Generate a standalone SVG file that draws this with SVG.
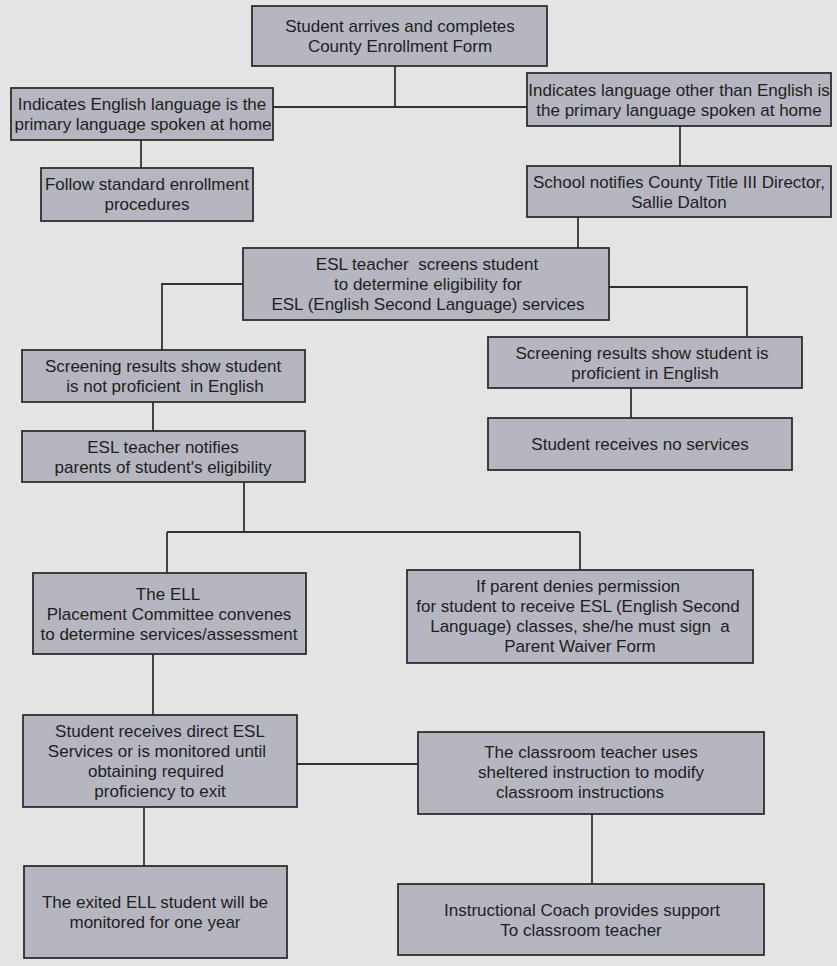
<svg xmlns="http://www.w3.org/2000/svg" width="837" height="966" viewBox="0 0 837 966">
<style>
.bg{fill:#e4e4e4}
.box{fill:#b6b6c0;stroke:#2e2e2e;stroke-width:1.8}
.t{font-family:"Liberation Sans",Arial,sans-serif;font-size:17px;fill:#1e1e1e;text-anchor:middle;white-space:pre}
.c{fill:none;stroke:#333;stroke-width:1.8}
</style>
<rect class="bg" x="0" y="0" width="837" height="966"/>
<g id="connectors">
<path class="c" d="M395,66 V107 M273,107 H527"/>
<path class="c" d="M141,140 V168"/>
<path class="c" d="M680,126 V166"/>
<path class="c" d="M578,217 V248"/>
<path class="c" d="M243,284 H162 V350"/>
<path class="c" d="M609,287 H747 V337"/>
<path class="c" d="M631,388 V418"/>
<path class="c" d="M153,402 V431"/>
<path class="c" d="M244,482 V532 M167,532 H580 M167,532 V573 M580,532 V570"/>
<path class="c" d="M153,654 V715"/>
<path class="c" d="M297,764 H418"/>
<path class="c" d="M144,807 V866"/>
<path class="c" d="M592,814 V884"/>
</g>
<g id="n1"><rect class="box" x="252" y="6" width="295" height="60"/>
<text class="t" x="400" y="32">Student arrives and completes</text>
<text class="t" x="400" y="52">County Enrollment Form</text></g>
<g id="n2"><rect class="box" x="11" y="88" width="262" height="52"/>
<text class="t" x="142" y="110">Indicates English language is the</text>
<text class="t" x="143" y="130">primary language spoken at home</text></g>
<g id="n3"><rect class="box" x="527" y="73" width="304" height="53"/>
<text class="t" x="679" y="96">Indicates language other than English is</text>
<text class="t" x="679" y="116">the primary language spoken at home</text></g>
<g id="n4"><rect class="box" x="41" y="168" width="212" height="53"/>
<text class="t" x="147" y="190">Follow standard enrollment</text>
<text class="t" x="147" y="210">procedures</text></g>
<g id="n5"><rect class="box" x="527" y="166" width="304" height="51"/>
<text class="t" x="679" y="188">School notifies County Title III Director,</text>
<text class="t" x="679" y="208">Sallie Dalton</text></g>
<g id="n6"><rect class="box" x="243" y="248" width="366" height="72"/>
<text class="t" x="427" y="270">ESL teacher  screens student</text>
<text class="t" x="428" y="290">to determine eligibility for</text>
<text class="t" x="428" y="310">ESL (English Second Language) services</text></g>
<g id="n7"><rect class="box" x="22" y="350" width="283" height="52"/>
<text class="t" x="163" y="372">Screening results show student</text>
<text class="t" x="165" y="392">is not proficient  in English</text></g>
<g id="n8"><rect class="box" x="488" y="337" width="314" height="51"/>
<text class="t" x="642" y="359">Screening results show student is</text>
<text class="t" x="645" y="379">proficient in English</text></g>
<g id="n9"><rect class="box" x="488" y="418" width="304" height="52"/>
<text class="t" x="640" y="450">Student receives no services</text></g>
<g id="n10"><rect class="box" x="22" y="431" width="283" height="51"/>
<text class="t" x="163" y="453">ESL teacher notifies</text>
<text class="t" x="163" y="473">parents of student's eligibility</text></g>
<g id="n11"><rect class="box" x="33" y="573" width="273" height="81"/>
<text class="t" x="168" y="600">The ELL</text>
<text class="t" x="169" y="620">Placement Committee convenes</text>
<text class="t" x="169" y="640">to determine services/assessment</text></g>
<g id="n12"><rect class="box" x="407" y="570" width="346" height="93"/>
<text class="t" x="578" y="592">If parent denies permission</text>
<text class="t" x="578" y="612">for student to receive ESL (English Second</text>
<text class="t" x="580" y="632">Language) classes, she/he must sign  a</text>
<text class="t" x="580" y="652">Parent Waiver Form</text></g>
<g id="n13"><rect class="box" x="23" y="715" width="274" height="92"/>
<text class="t" x="160" y="737">Student receives direct ESL</text>
<text class="t" x="157" y="757">Services or is monitored until</text>
<text class="t" x="156" y="777">obtaining required</text>
<text class="t" x="160" y="797">proficiency to exit</text></g>
<g id="n14"><rect class="box" x="418" y="732" width="346" height="82"/>
<text class="t" x="591" y="758">The classroom teacher uses</text>
<text class="t" x="591" y="778">sheltered instruction to modify</text>
<text class="t" x="580" y="798">classroom instructions</text></g>
<g id="n15"><rect class="box" x="24" y="866" width="263" height="92"/>
<text class="t" x="155" y="908">The exited ELL student will be</text>
<text class="t" x="155" y="928">monitored for one year</text></g>
<g id="n16"><rect class="box" x="398" y="884" width="366" height="71"/>
<text class="t" x="582" y="916">Instructional Coach provides support</text>
<text class="t" x="581" y="936">To classroom teacher</text></g>
</svg>
